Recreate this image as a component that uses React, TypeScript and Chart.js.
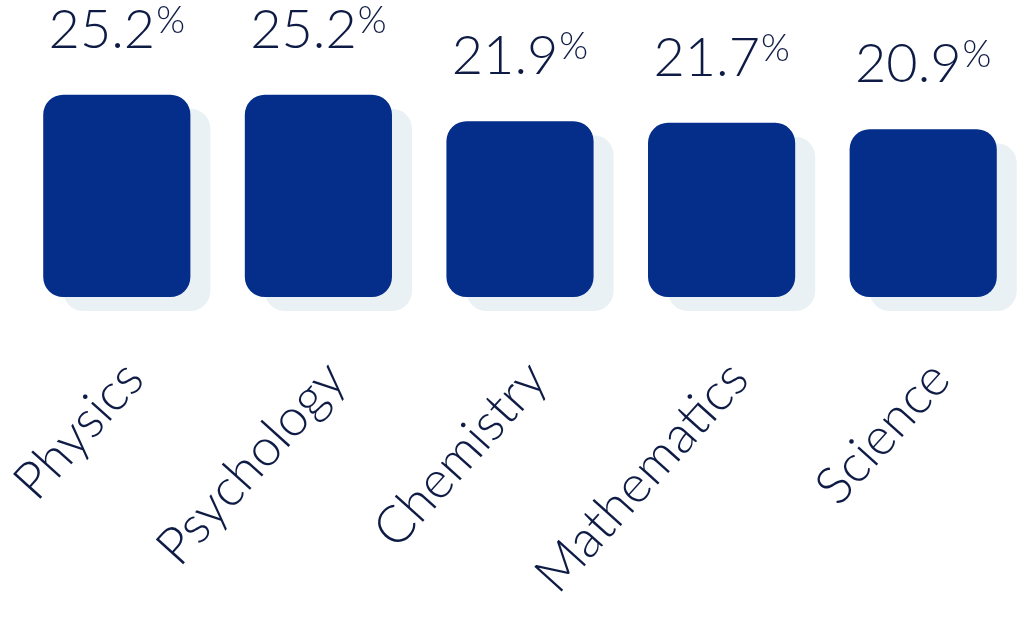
import React, { useEffect, useRef } from "react";
import { Chart, registerables } from "chart.js";

Chart.register(...registerables);

const categories = ["Physics", "Psychology", "Chemistry", "Mathematics", "Science"];
const values = [25.2, 25.2, 21.9, 21.7, 20.9];
const valueLabels = ["25.2", "25.2", "21.9", "21.7", "20.9"];
const unitLabel = "%";

const BAR_COLOR = "#052E8A";
const SHADOW_COLOR = "#EAF1F5";
const TEXT_COLOR = "#0E1B45";
const FONT_FAMILY = "Lato, 'Open Sans', sans-serif";

const shadowPlugin = {
  id: "barShadow",
  beforeDatasetsDraw(chart: any) {
    const ctx = chart.ctx;
    ctx.save();
    ctx.shadowColor = SHADOW_COLOR;
    ctx.shadowBlur = 0;
    ctx.shadowOffsetX = 20;
    ctx.shadowOffsetY = 14;
  },
  afterDatasetsDraw(chart: any) {
    chart.ctx.restore();
  },
};

const valueLabelPlugin = {
  id: "valueLabels",
  afterDatasetsDraw(chart: any) {
    const ctx = chart.ctx;
    const meta = chart.getDatasetMeta(0);
    ctx.save();
    ctx.fillStyle = TEXT_COLOR;
    meta.data.forEach((bar: any, i: number) => {
      const num = valueLabels[i];
      ctx.font = `300 54px ${FONT_FAMILY}`;
      const numW = ctx.measureText(num).width;
      ctx.font = `300 37px ${FONT_FAMILY}`;
      const pctW = ctx.measureText(unitLabel).width;
      const gap = 1;
      const total = numW + gap + pctW;
      const startX = bar.x - total / 2;
      const baseY = bar.y - 47;
      ctx.textAlign = "left";
      ctx.textBaseline = "alphabetic";
      ctx.font = `300 54px ${FONT_FAMILY}`;
      ctx.fillText(num, startX, baseY);
      ctx.font = `300 37px ${FONT_FAMILY}`;
      ctx.fillText(unitLabel, startX + numW + gap, baseY - 15);
    });
    ctx.restore();
  },
};

export default function App() {
  const canvasRef = useRef<HTMLCanvasElement | null>(null);

  useEffect(() => {
    document.body.style.margin = "0";
    const canvas = canvasRef.current;
    if (!canvas) return;
    const chart = new Chart(canvas, {
      type: "bar",
      data: {
        labels: categories,
        datasets: [
          {
            data: values,
            backgroundColor: BAR_COLOR,
            borderRadius: 20,
            borderSkipped: false,
            barPercentage: 0.73,
            categoryPercentage: 1,
            clip: false as any,
          },
        ],
      },
      options: {
        animation: false,
        responsive: true,
        maintainAspectRatio: false,
        layout: { padding: { left: 16, right: -4, top: 0, bottom: 0 } },
        plugins: {
          legend: { display: false },
          tooltip: { enabled: false },
        },
        scales: {
          x: {
            grid: { display: false, drawTicks: false },
            border: { display: false },
            afterFit: (scale: any) => {
              scale.height = 321;
              scale.paddingLeft = 0;
              scale.paddingRight = 0;
            },
            ticks: {
              autoSkip: false,
              maxRotation: 48,
              minRotation: 48,
              labelOffset: 17,
              padding: 52,
              color: TEXT_COLOR,
              font: { family: FONT_FAMILY, size: 52, weight: "300" as any },
            },
          },
          y: {
            display: false,
            min: 0,
            max: 37,
          },
        },
      },
      plugins: [shadowPlugin, valueLabelPlugin],
    });
    return () => chart.destroy();
  }, []);

  return (
    <div style={{ width: 1024, height: 618, position: "relative" }}>
      <canvas ref={canvasRef} />
    </div>
  );
}
